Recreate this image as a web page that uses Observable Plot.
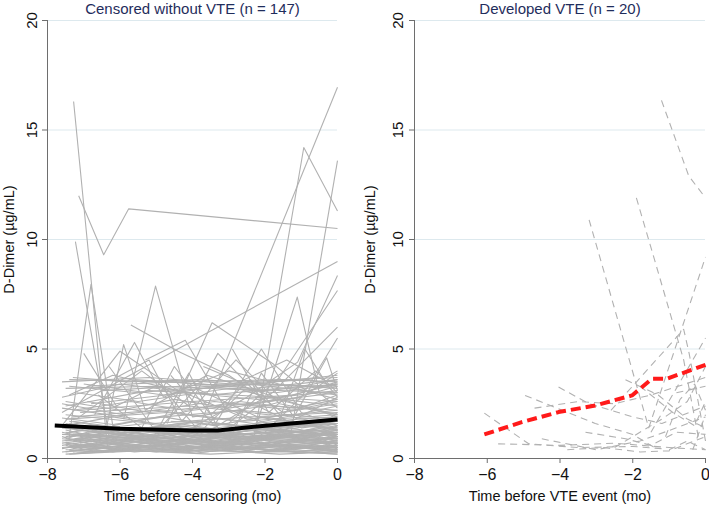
<!DOCTYPE html>
<html>
<head>
<meta charset="utf-8">
<script src="https://cdn.jsdelivr.net/npm/d3@7"></script>
<script src="https://cdn.jsdelivr.net/npm/@observablehq/plot@0.6"></script>
<style>
  html, body { margin: 0; padding: 0; background: #fff; }
  #wrap { display: flex; width: 709px; height: 505px; overflow: hidden; }
  svg { font-family: "Liberation Sans", Arial, Helvetica, sans-serif; }
</style>
</head>
<body>
<div id="wrap"></div>
<script>
// ---------- Data ----------
const panelTitles = ["Censored without VTE (n = 147)", "Developed VTE (n = 20)"];
const xLabels = ["Time before censoring (mo)", "Time before VTE event (mo)"];
const yLabel = "D-Dimer (µg/mL)";
const xTicks = [-8, -6, -4, -2, 0];
const yTicks = [0, 5, 10, 15, 20];
const gridTicks = [5, 10, 15, 20];

// Censored without VTE: each patient = list of [months before censoring, D-dimer]
const censoredPatients = [
  [[-7.28,16.3],[-6.35,0.6],[-5.5,0.9],[-3,0.7],[0,1.2]],
  [[-7.14,12.0],[-6.45,9.3],[-5.76,11.4],[0,10.5]],
  [[-7.23,9.9],[-6.3,1.0],[-4.5,1.3],[-2,0.9],[0,1.6]],
  [[-7.4,1.0],[-6.8,7.95],[-6.2,1.5],[-4,2.2],[0,3.0]],
  [[-5.9,1.8],[-5.02,7.87],[-4.0,1.9],[-2,2.4],[0,3.3]],
  [[-3.8,1.5],[0,16.95]],
  [[-2.3,1.0],[-0.93,14.2],[0,11.3]],
  [[-1.3,1.0],[0,13.6]],
  [[-7.6,2.1],[0,9.0]],
  [[-7.5,3.2],[-5,3.3],[-2,3.1],[0,3.4]],
  [[-7.4,3.6],[-4.5,3.5],[-1.5,3.6],[0,3.5]],
  [[-7.2,3.0],[-5.5,2.6],[-3,3.2],[0,3.0]],
  [[-7.6,2.8],[-6,3.4],[-3.5,2.9],[-1,3.3],[0,3.6]],
  [[-7.3,3.7],[-5.8,3.5],[-3.8,3.6],[0,3.2]],
  [[-6.8,2.5],[-4.2,3.0],[-2.2,2.7],[0,3.1]],
  [[-7.0,3.4],[-4.8,2.9],[-2.6,3.5],[0,3.7]],
  [[-7.5,2.4],[-5.2,3.1],[-1.8,2.8],[0,2.6]],
  [[-6.5,3.1],[-3.2,3.4],[0,3.3]],
  [[-7.1,2.2],[-4,2.6],[-1.2,2.9],[0,3.5]],
  [[-5.6,3.6],[-2.8,3.3],[0,3.8]],
  [[-7.4,2.9],[-6.2,3.8],[-4.4,3.1],[-2.4,3.4],[0,2.9]],
  [[-7.6,1.5],[-6.0,4.9],[-4.5,3.2],[-2.5,1.8],[0,2.2]],
  [[-6.7,2.0],[-5.6,5.3],[-4.8,2.8],[-3,4.0],[0,2.7]],
  [[-6.4,1.2],[-5.9,5.2],[-5.3,2.2],[-3.6,3.8],[0,1.9]],
  [[-5.7,6.1],[-4.4,4.9],[-3,3.8],[-1.5,2.1],[0,2.5]],
  [[-4.7,1.6],[-3.46,6.2],[-1.76,4.3],[-0.8,3.0],[0,3.9]],
  [[-6.1,3.7],[-5.2,4.5],[-4.3,1.7],[-2.8,4.5],[-1.6,2.5],[0,2.0]],
  [[-2.3,1.2],[-1.11,7.37],[-0.5,3.0],[0,2.3]],
  [[-4.0,1.4],[-2.5,2.8],[-1.1,4.4],[0,8.36]],
  [[-3.0,1.6],[-1.6,3.7],[0,7.67]],
  [[-3.5,1.3],[-1.8,3.0],[0,6.0]],
  [[-5.3,4.5],[-4.2,5.4],[-3.1,2.3],[-1.8,1.5],[0,1.7]],
  [[-4.6,3.8],[-3.4,1.5],[-2.1,5.0],[-1.0,2.1],[0,1.5]],
  [[-2.9,5.0],[-1.9,2.1],[-0.6,4.0],[0,3.0]],
  [[-6.3,4.2],[-5.0,1.2],[-3.9,3.2],[-2.2,1.9],[0,1.3]],
  [[-7.2,1.8],[-5.4,4.0],[-4.1,2.4],[-3.3,4.8],[-2.0,2.6],[0,3.4]],
  [[-1.6,1.8],[-0.9,5.0],[-0.3,3.4],[0,2.8]],
  [[-3.7,4.2],[-2.7,3.5],[-1.4,4.5],[-0.4,3.6],[0,4.0]],
  [[-7.5,1.2],[-5,0.8],[-2.5,1.0],[0,0.9]],
  [[-7.4,0.5],[-4.8,0.6],[-2.2,0.4],[0,0.5]],
  [[-7.6,0.8],[-6,1.1],[-3,0.7],[0,1.2]],
  [[-7.3,0.3],[-5.2,0.4],[-1.8,0.3],[0,0.3]],
  [[-7.5,1.4],[-4.5,1.2],[-1.5,1.5],[0,1.6]],
  [[-7.2,0.9],[-5.5,0.5],[-3.5,0.9],[0,0.7]],
  [[-7.6,0.6],[-6.4,0.9],[-4.1,0.5],[-1.2,0.8],[0,1.0]],
  [[-7.4,1.7],[-5.8,1.3],[-3.2,1.6],[-1,1.2],[0,1.4]],
  [[-7.5,0.4],[-4.3,0.3],[-2,0.6],[0,0.4]],
  [[-7.1,1.0],[-5.6,1.4],[-2.8,1.1],[0,1.3]],
  [[-7.5,2.0],[-5.1,1.6],[-2.4,1.9],[0,2.1]],
  [[-7.3,0.7],[-6.1,0.4],[-3.6,0.8],[-1.4,0.5],[0,0.6]],
  [[-7.6,1.1],[-4.9,0.9],[-2.1,1.3],[0,1.1]],
  [[-7.0,0.5],[-5.3,0.8],[-3.0,0.4],[0,0.8]],
  [[-7.5,1.5],[-6.2,1.9],[-3.9,1.3],[-1.1,1.8],[0,1.9]],
  [[-7.4,0.2],[-4.6,0.5],[-1.6,0.2],[0,0.3]],
  [[-7.2,1.3],[-5.4,1.0],[-2.6,1.4],[0,1.0]],
  [[-7.6,0.9],[-5.7,0.6],[-3.3,1.1],[-0.8,0.7],[0,0.8]],
  [[-7.5,1.8],[-4.7,2.1],[-2.3,1.6],[0,2.4]],
  [[-7.3,0.6],[-5.9,0.7],[-3.7,0.3],[-1.3,0.6],[0,0.5]],
  [[-6.9,1.2],[-4.4,1.5],[-1.9,1.0],[0,1.5]],
  [[-7.5,0.3],[-6.0,0.6],[-2.9,0.5],[0,0.2]],
  [[-7.4,1.0],[-5.0,1.3],[-3.4,0.8],[-1.0,1.1],[0,1.2]],
  [[-7.6,2.3],[-5.5,1.8],[-2.7,2.2],[0,1.8]],
  [[-7.1,0.4],[-4.0,0.7],[-1.7,0.4],[0,0.6]],
  [[-7.5,0.8],[-5.7,1.2],[-4.2,0.9],[-2.0,1.2],[0,0.9]],
  [[-6.8,0.6],[-4.5,0.4],[-2.5,0.7],[0,0.4]],
  [[-7.4,1.6],[-6.3,1.2],[-3.8,1.7],[-1.5,1.3],[0,1.7]],
  [[-7.2,0.9],[-5.1,0.7],[-3.1,1.0],[0,1.1]],
  [[-7.6,0.5],[-4.8,0.9],[-2.2,0.6],[0,0.7]],
  [[-6.6,1.4],[-4.3,1.1],[-1.4,1.6],[0,1.3]],
  [[-7.5,0.7],[-5.6,0.3],[-3.3,0.6],[-1.1,0.3],[0,0.5]],
  [[-7.3,1.9],[-5.0,2.2],[-2.6,1.7],[0,2.0]],
  [[-7.0,0.3],[-4.9,0.6],[-2.4,0.3],[0,0.4]],
  [[-6.5,1.0],[-3.9,0.7],[-1.3,1.0],[0,0.9]],
  [[-7.4,1.2],[-5.3,1.6],[-3.6,1.2],[-0.9,1.5],[0,1.4]],
  [[-6.2,0.8],[-3.5,1.1],[-0.7,0.8],[0,1.0]],
  [[-5.8,0.5],[-3.0,0.8],[-1.0,0.5],[0,0.6]],
  [[-5.4,1.3],[-2.9,0.9],[0,1.1]],
  [[-5.0,0.4],[-2.2,0.7],[0,0.3]],
  [[-4.6,1.7],[-2.0,1.4],[0,1.6]],
  [[-4.2,0.6],[-1.5,0.9],[0,0.7]],
  [[-3.8,1.0],[-1.2,1.3],[0,1.2]],
  [[-3.2,0.4],[-0.8,0.6],[0,0.5]],
  [[-2.6,1.5],[-0.6,1.1],[0,1.3]],
  [[-2.0,0.7],[-0.5,0.9],[0,0.8]],
  [[-1.5,2.0],[-0.4,1.6],[0,2.1]],
  [[-6.9,2.6],[-5.2,2.1],[-2.8,2.5],[0,2.2]],
  [[-7.1,2.1],[-4.1,2.4],[-1.9,2.0],[0,2.6]],
  [[-7.6,2.5],[-5.9,2.0],[-3.4,2.6],[-1.2,2.2],[0,2.9]],
  [[-7.5,0.6],[-6.6,0.3],[-5.4,0.7],[-4.2,0.4],[-2.7,0.8],[-1.2,0.4],[0,0.7]],
  [[-7.4,0.4],[-6.5,0.8],[-5.1,0.5],[-3.8,0.9],[-2.3,0.5],[-0.9,0.9],[0,0.5]],
  [[-7.6,1.0],[-6.7,0.6],[-5.6,1.0],[-4.4,0.6],[-3.1,1.0],[-1.7,0.6],[0,1.0]],
  [[-7.3,0.8],[-6.2,1.2],[-4.9,0.7],[-3.6,1.2],[-2.1,0.8],[-0.7,1.2],[0,0.9]],
  [[-7.5,1.3],[-6.4,0.9],[-5.2,1.3],[-3.9,0.8],[-2.4,1.3],[-1.0,0.9],[0,1.2]],
  [[-7.2,0.5],[-6.0,0.9],[-4.7,0.6],[-3.4,1.0],[-1.9,0.6],[-0.6,1.0],[0,0.6]],
  [[-7.6,0.3],[-6.3,0.5],[-5.0,0.3],[-3.7,0.6],[-2.2,0.3],[-0.8,0.5],[0,0.3]],
  [[-7.4,1.5],[-6.1,1.1],[-4.8,1.5],[-3.5,1.0],[-2.0,1.4],[-0.5,1.1],[0,1.5]],
  [[-7.5,0.9],[-6.5,1.4],[-5.3,0.9],[-4.0,1.3],[-2.6,0.9],[-1.3,1.4],[0,1.0]],
  [[-7.3,1.1],[-5.9,0.8],[-4.6,1.2],[-3.2,0.7],[-1.8,1.1],[-0.4,0.8],[0,1.1]],
  [[-7.6,0.7],[-6.1,1.0],[-4.5,0.7],[-3.0,1.1],[-1.6,0.7],[0,0.9]],
  [[-7.4,0.35],[-5.8,0.6],[-4.3,0.35],[-2.9,0.7],[-1.4,0.4],[0,0.55]],
  [[-7.5,1.6],[-6.0,1.2],[-4.4,1.6],[-2.8,1.2],[-1.1,1.6],[0,1.3]],
  [[-7.2,0.25],[-5.5,0.45],[-3.9,0.25],[-2.5,0.5],[-1.0,0.25],[0,0.4]],
  [[-7.6,1.2],[-6.2,0.7],[-4.7,1.1],[-3.3,0.6],[-1.7,1.0],[0,0.7]],
  [[-7.3,0.45],[-5.7,0.9],[-4.1,0.45],[-2.6,0.9],[-1.2,0.45],[0,0.85]],
  [[-7.5,1.0],[-5.8,1.4],[-4.0,1.0],[-2.3,1.4],[-0.9,1.0],[0,1.3]],
  [[-7.4,0.6],[-6.0,0.4],[-4.4,0.8],[-2.8,0.4],[-1.3,0.8],[0,0.45]],
  [[-7.6,1.4],[-5.6,1.0],[-3.8,1.4],[-2.1,1.0],[-0.6,1.3],[0,1.0]],
  [[-7.1,0.7],[-5.4,1.1],[-3.6,0.6],[-1.9,1.1],[0,0.7]],
  [[-7.5,0.2],[-5.5,0.35],[-3.5,0.2],[-1.5,0.35],[0,0.2]],
  [[-7.3,1.7],[-5.5,1.3],[-3.7,1.7],[-1.9,1.3],[0,1.7]],
  [[-7.6,0.45],[-6.8,0.7],[-5.9,0.35],[-4.9,0.65],[-3.9,0.35],[-2.9,0.6],[-1.9,0.35],[-0.9,0.6],[0,0.35]],
  [[-7.4,0.85],[-6.6,1.1],[-5.7,0.75],[-4.6,1.05],[-3.6,0.75],[-2.6,1.05],[-1.6,0.75],[-0.6,1.05],[0,0.8]],
  [[-7.5,1.15],[-6.7,1.45],[-5.8,1.1],[-4.8,1.4],[-3.8,1.05],[-2.7,1.4],[-1.7,1.05],[-0.7,1.35],[0,1.1]],
  [[-7.2,0.55],[-6.2,0.3],[-5.2,0.55],[-4.2,0.3],[-3.2,0.55],[-2.2,0.3],[-1.2,0.55],[0,0.3]],
  [[-7.6,1.85],[-6.2,1.55],[-4.8,1.9],[-3.4,1.5],[-2.0,1.9],[-0.6,1.5],[0,1.8]],
  [[-7.5,2.6],[-6.0,2.2],[-4.5,2.7],[-3.0,2.3],[-1.5,2.7],[0,2.4]],
  [[-7.3,2.2],[-5.7,2.6],[-4.2,2.2],[-2.7,2.6],[-1.2,2.3],[0,2.7]],
  [[-7.4,3.3],[-5.5,3.0],[-3.6,3.3],[-1.7,3.0],[0,3.4]],
  [[-7.6,3.5],[-5.2,3.7],[-2.9,3.4],[-0.8,3.6],[0,3.3]],
  [[-6.9,3.3],[-4.6,3.5],[-2.3,3.2],[0,3.6]],
  [[-5.1,0.9],[-4.1,3.9],[-3.2,1.1],[-2.2,2.4],[-1.0,1.4],[0,1.6]],
  [[-6.6,2.9],[-5.4,1.4],[-4.5,4.2],[-3.5,2.0],[-2.4,3.6],[-1.4,1.6],[0,2.8]],
  [[-3.0,0.8],[-2.1,3.9],[-1.2,1.9],[-0.3,4.6],[0,3.1]],
  [[-7.0,4.8],[-6.1,2.4],[-4.9,3.4],[-3.8,1.2],[-2.6,3.1],[0,2.0]],
  [[-2.0,1.2],[-1.0,2.8],[0,5.5]]
];
const censoredMean = [[-7.8,1.51],[-6,1.36],[-4,1.28],[-3.3,1.28],[-2,1.5],[0,1.78]];

// Developed VTE: each patient = list of [months before VTE event, D-dimer]
const vtePatients = [
  [[-1.21,16.35],[-0.46,12.9],[0,11.9]],
  [[-1.9,11.9],[-1.3,8.5],[-0.6,4.5],[-0.2,1.0]],
  [[-3.2,10.9],[-1.56,1.4],[0,9.2]],
  [[-2.6,2.2],[-0.6,5.9],[-0.45,4.8],[0,0.8]],
  [[-1.5,1.2],[0,5.5]],
  [[-6.08,2.07],[-4.86,0.67],[-3.5,0.5],[-2,0.55],[-1.2,0.45]],
  [[-5.7,0.67],[-4,0.6],[-2.5,0.7],[-1,0.5],[0,0.4]],
  [[-4.96,2.88],[-3.03,1.6],[-2,1.1],[-1.4,0.5]],
  [[-4.04,3.26],[-3.2,2.5],[-2,1.9],[-1.2,1.6],[0,2.4]],
  [[-4.7,2.3],[-3.5,2.6],[-2.5,2.5],[-1.5,2.9],[0,3.7]],
  [[-4.5,0.9],[-3,0.4],[-1.8,0.8],[-0.8,1.4],[0,1.9]],
  [[-3.3,1.2],[-2.2,0.9],[-1.5,0.6],[-0.8,1.2],[0,1.1]],
  [[-2.5,0.5],[-1.2,1.8],[-0.5,2.6],[0,4.2]],
  [[-1.8,3.3],[-0.9,2.1],[-0.3,1.5],[0,2.6]],
  [[-1.0,0.4],[-0.5,0.8],[0,0.4]],
  [[-0.35,0.4],[0,2.0]],
  [[-2.2,3.6],[-1.3,2.9],[-0.5,1.8],[0,1.4]],
  [[-3.8,0.4],[-2.8,0.5],[-1.8,0.3],[-1.0,0.35],[0,1.0]],
  [[-1.1,1.0],[-0.7,2.7],[-0.3,3.4],[0,2.2]],
  [[-0.8,3.0],[0,3.3]]
];
const vteMean = [[-6.08,1.1],[-5.05,1.66],[-4.04,2.12],[-3.03,2.42],[-2.02,2.88],[-1.47,3.64],[-1.06,3.64],[0,4.28]];

// ---------- Build tables ----------
function toRows(patients) {
  const rows = [];
  patients.forEach((p, id) => p.forEach(([t, v]) => rows.push({id, t, v})));
  return rows;
}
const meanRows = m => m.map(([t, v]) => ({t, v}));

const FONT = '"Liberation Sans", Arial, Helvetica, sans-serif';

function panel({width, marginLeft, marginRight, title, xLabel, rows, mean, dashed, meanColor, yTickDx, yLabelDx}) {
  return Plot.plot({
    width, height: 505,
    marginLeft, marginRight, marginTop: 20, marginBottom: 47,
    style: {fontFamily: FONT, fontSize: "14px", background: "white", overflow: "visible"},
    x: {domain: [-8, 0]},
    y: {domain: [0, 20]},
    marks: [
      Plot.gridY(gridTicks, {stroke: "#dde9ee", strokeOpacity: 1, strokeWidth: 1}),
      Plot.line(rows, {x: "t", y: "v", z: "id", stroke: "#b1b1b1", strokeWidth: 1.1,
        strokeDasharray: dashed ? "7,5" : null, strokeLinecap: "butt", curve: "linear"}),
      Plot.line(mean, {x: "t", y: "v", stroke: meanColor, strokeWidth: 4,
        strokeDasharray: dashed ? "10,5" : null, strokeLinecap: "butt"}),
      Plot.ruleX([-8], {stroke: "#6e6e6e", strokeWidth: 1}),
      Plot.ruleY([0], {stroke: "#6e6e6e", strokeWidth: 1}),
      Plot.axisX({ticks: xTicks, tickSize: 5, tickPadding: 5, fontSize: 16, stroke: "#6e6e6e",
        fill: "#111", label: null, tickFormat: d => d === 0 ? "0" : "\u2212" + Math.abs(d)}),
      Plot.axisY({ticks: yTicks, tickSize: 5, stroke: "#6e6e6e", tickFormat: () => "", label: null}),
      Plot.text(yTicks, {y: d => d, text: d => String(d), frameAnchor: "left", dx: yTickDx,
        rotate: -90, textAnchor: "middle", lineAnchor: "middle", fontSize: 15, fill: "#111"}),
      Plot.text([yLabel], {frameAnchor: "left", dx: yLabelDx, rotate: -90, textAnchor: "middle",
        lineAnchor: "middle", fontSize: 14.5, fill: "#111"}),
      Plot.text([xLabel], {frameAnchor: "bottom", dy: 38, textAnchor: "middle",
        lineAnchor: "middle", fontSize: 14.5, fill: "#111"}),
      Plot.text([title], {frameAnchor: "top", dy: -11, textAnchor: "middle",
        lineAnchor: "middle", fontSize: 15, fill: "#1f2d5c"})
    ]
  });
}

const wrap = document.getElementById("wrap");
wrap.appendChild(panel({
  width: 354, marginLeft: 47, marginRight: 17,
  title: panelTitles[0], xLabel: xLabels[0],
  rows: toRows(censoredPatients), mean: meanRows(censoredMean),
  dashed: false, meanColor: "#000", yTickDx: -15, yLabelDx: -38
}));
wrap.appendChild(panel({
  width: 355, marginLeft: 60, marginRight: 4,
  title: panelTitles[1], xLabel: xLabels[1],
  rows: toRows(vtePatients), mean: meanRows(vteMean),
  dashed: true, meanColor: "#ff1a1a", yTickDx: -16, yLabelDx: -44
}));
</script>
</body>
</html>
